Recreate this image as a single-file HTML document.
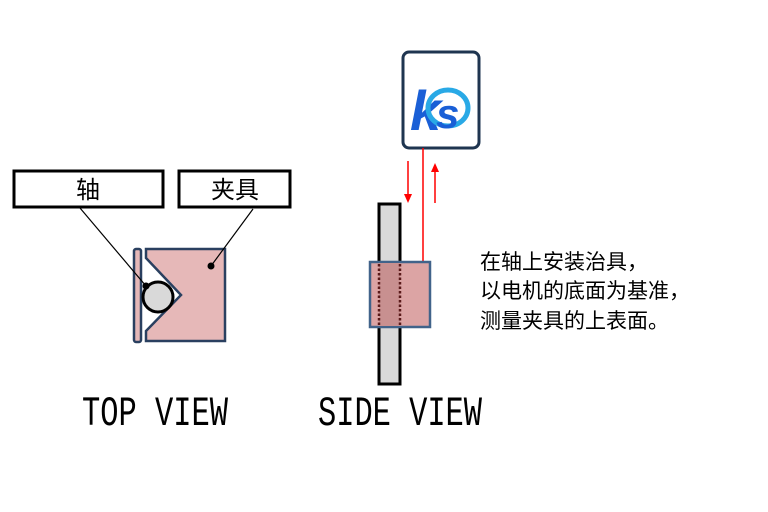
<!DOCTYPE html>
<html><head><meta charset="utf-8"><style>body{margin:0;background:#fff}svg{display:block}</style></head>
<body>
<svg width="768" height="512" viewBox="0 0 768 512" xmlns="http://www.w3.org/2000/svg">
<rect x="14" y="171" width="149" height="36" fill="#fff" stroke="#000" stroke-width="3"/>
<text x="88" y="198" font-family="Liberation Sans, Noto Sans CJK SC, sans-serif" font-size="24" text-anchor="middle">轴</text>
<rect x="179" y="171" width="111" height="36" fill="#fff" stroke="#000" stroke-width="3"/>
<text x="235" y="198" font-family="Liberation Sans, Noto Sans CJK SC, sans-serif" font-size="24" text-anchor="middle">夹具</text>
<rect x="134" y="249" width="7" height="93" rx="2" fill="#e6b8b8" stroke="#2a4060" stroke-width="2.5"/>
<polygon points="146,249 225,249 225,341 146,341 146,331 181,295 146,258" fill="#e6b8b8" stroke="#2a4060" stroke-width="2.5"/>
<circle cx="158" cy="297" r="15" fill="#d9d9d9" stroke="#000" stroke-width="3"/>
<line x1="80" y1="208" x2="146" y2="286" stroke="#000" stroke-width="1.2"/>
<circle cx="146" cy="286" r="3.5" fill="#000"/>
<line x1="253" y1="209" x2="211" y2="266" stroke="#000" stroke-width="1.2"/>
<circle cx="211" cy="266" r="3.5" fill="#000"/>
<rect x="403" y="52" width="76" height="96" rx="6" fill="#fff" stroke="#1f3550" stroke-width="3"/>
<text x="410" y="130" font-family="Liberation Sans, sans-serif" font-style="italic" font-weight="bold" font-size="56" fill="#1a5fd6">k</text>
<ellipse cx="448" cy="108" rx="20" ry="18" fill="none" stroke="#29a9e6" stroke-width="5"/>
<text x="436" y="128" font-family="Liberation Sans, sans-serif" font-style="italic" font-weight="bold" font-size="42" fill="#1a5fd6">s</text>
<line x1="423" y1="148" x2="423" y2="262" stroke="#f00" stroke-width="1.5"/>
<line x1="408" y1="161" x2="408" y2="195" stroke="#f00" stroke-width="1.5"/>
<polygon points="404,194 412,194 408,203" fill="#f00"/>
<line x1="435" y1="172" x2="435" y2="203" stroke="#f00" stroke-width="1.5"/>
<polygon points="431,172 439,172 435,163" fill="#f00"/>
<rect x="379" y="204" width="21" height="180" fill="#d9d9d9" stroke="#000" stroke-width="3"/>
<rect x="370" y="262" width="60" height="65" fill="#dca4a4" stroke="#41638a" stroke-width="2.5"/>
<rect x="379" y="263" width="21" height="63" fill="#c89090"/>
<line x1="379" y1="264" x2="379" y2="326" stroke="#5a1a1a" stroke-width="2.5" stroke-dasharray="2.5,2"/>
<line x1="400" y1="264" x2="400" y2="326" stroke="#5a1a1a" stroke-width="2.5" stroke-dasharray="2.5,2"/>
<text x="82" y="425" font-family="Liberation Mono, monospace" font-size="42" textLength="146" lengthAdjust="spacingAndGlyphs">TOP VIEW</text>
<text x="318" y="425" font-family="Liberation Mono, monospace" font-size="42" textLength="164" lengthAdjust="spacingAndGlyphs">SIDE VIEW</text>
<g font-family="Liberation Sans, Noto Sans CJK SC, sans-serif" font-size="21" fill="#000">
<text x="480" y="269">在轴上安装治具，</text>
<text x="480" y="298">以电机的底面为基准，</text>
<text x="480" y="328">测量夹具的上表面。</text>
</g>
</svg>
</body></html>
